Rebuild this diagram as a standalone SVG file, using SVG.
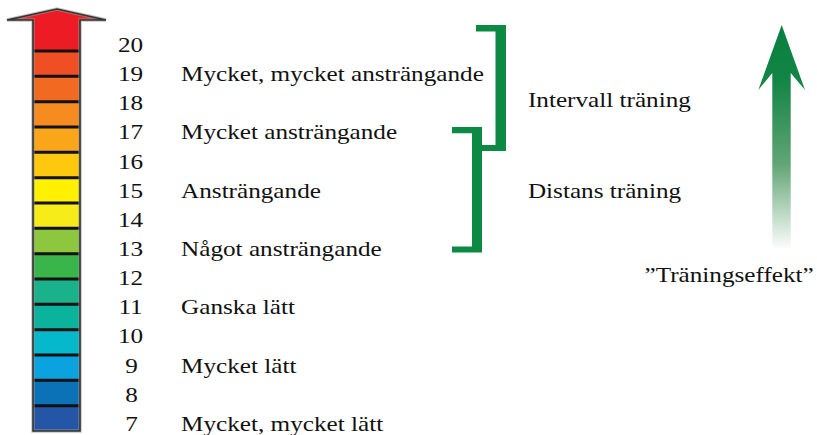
<svg xmlns="http://www.w3.org/2000/svg" width="817" height="435" viewBox="0 0 817 435">
<style>
.t{font-family:"Liberation Serif","Times New Roman",serif;font-size:20px;fill:#111}
.n{text-anchor:middle}
.sep{stroke:#111;stroke-width:3}
.br{fill:#0c8a44}
</style>
<defs>
<linearGradient id="gg" gradientUnits="userSpaceOnUse" x1="0" y1="25" x2="0" y2="250">
<stop offset="0" stop-color="#078040"/>
<stop offset="0.25" stop-color="#138544"/>
<stop offset="0.62" stop-color="#62a575"/>
<stop offset="1" stop-color="#ffffff"/>
</linearGradient>
</defs>
<rect width="817" height="435" fill="#fff"/>
<g id="scale-arrow">
<polygon points="7,20 57,9 106,20 80,20 80,51 33,51 33,20" fill="#ed1c24"/>
<rect x="33" y="51" width="47" height="25.4" fill="#f04e23"/>
<rect x="33" y="76.3" width="47" height="25.4" fill="#f26a22"/>
<rect x="33" y="101.7" width="47" height="25.4" fill="#f68b1f"/>
<rect x="33" y="127" width="47" height="25.4" fill="#faa61a"/>
<rect x="33" y="152.3" width="47" height="25.4" fill="#fdc80e"/>
<rect x="33" y="177.7" width="47" height="25.4" fill="#fff100"/>
<rect x="33" y="203" width="47" height="25.4" fill="#f6ec1a"/>
<rect x="33" y="228.3" width="47" height="25.4" fill="#8dc63f"/>
<rect x="33" y="253.7" width="47" height="25.4" fill="#39b54a"/>
<rect x="33" y="279" width="47" height="25.4" fill="#1ab28a"/>
<rect x="33" y="304.3" width="47" height="25.4" fill="#0bb39c"/>
<rect x="33" y="329.7" width="47" height="25.4" fill="#06b8cb"/>
<rect x="33" y="355" width="47" height="25.4" fill="#0aa3df"/>
<rect x="33" y="380.3" width="47" height="25.4" fill="#0b72b8"/>
<rect x="33" y="405.7" width="47" height="25.3" fill="#2356a6"/>
<g class="sep">
<line x1="33" y1="51" x2="80" y2="51"/>
<line x1="33" y1="76.3" x2="80" y2="76.3"/>
<line x1="33" y1="101.7" x2="80" y2="101.7"/>
<line x1="33" y1="127" x2="80" y2="127"/>
<line x1="33" y1="152.3" x2="80" y2="152.3"/>
<line x1="33" y1="177.7" x2="80" y2="177.7"/>
<line x1="33" y1="203" x2="80" y2="203"/>
<line x1="33" y1="228.3" x2="80" y2="228.3"/>
<line x1="33" y1="253.7" x2="80" y2="253.7"/>
<line x1="33" y1="279" x2="80" y2="279"/>
<line x1="33" y1="304.3" x2="80" y2="304.3"/>
<line x1="33" y1="329.7" x2="80" y2="329.7"/>
<line x1="33" y1="355" x2="80" y2="355"/>
<line x1="33" y1="380.3" x2="80" y2="380.3"/>
<line x1="33" y1="405.7" x2="80" y2="405.7"/>
</g>
<path d="M33,20 L7,20 L57,9 L106,20 L80,20 L80,431 L33,431 Z" fill="none" stroke="#9a9a9a" stroke-width="3.5" stroke-linejoin="miter" opacity="0.6"/>
<path d="M33,20 L7,20 L57,9 L106,20 L80,20 L80,431 L33,431 Z" fill="none" stroke="#333" stroke-width="1.6" stroke-linejoin="miter"/>
</g>
<g id="scale-labels" class="t" transform="scale(1.26 1)">
<text class="t n" x="103.6" y="52">20</text>
<text class="t n" x="103.6" y="81.2">19</text>
<text class="t n" x="103.6" y="110.3">18</text>
<text class="t n" x="103.6" y="139.5">17</text>
<text class="t n" x="103.6" y="168.6">16</text>
<text class="t n" x="103.6" y="197.8">15</text>
<text class="t n" x="103.6" y="226.9">14</text>
<text class="t n" x="103.6" y="256">13</text>
<text class="t n" x="103.6" y="285.2">12</text>
<text class="t n" x="103.6" y="314.4">11</text>
<text class="t n" x="103.6" y="343.5">10</text>
<text class="t n" x="104.4" y="372.7">9</text>
<text class="t n" x="104.4" y="401.8">8</text>
<text class="t n" x="104.4" y="431">7</text>
<text class="t" x="143.7" y="81.2">Mycket, mycket ansträngande</text>
<text class="t" x="143.7" y="139.5">Mycket ansträngande</text>
<text class="t" x="143.7" y="197.8">Ansträngande</text>
<text class="t" x="143.7" y="256">Något ansträngande</text>
<text class="t" x="143.7" y="314.4">Ganska lätt</text>
<text class="t" x="143.7" y="372.7">Mycket lätt</text>
<text class="t" x="143.7" y="431">Mycket, mycket lätt</text>
<text class="t" x="419" y="107.5">Intervall träning</text>
<text class="t" x="419" y="198.5">Distans träning</text>
<text class="t" x="511.5" y="282">”Träningseffekt”</text>
</g>
<g id="brackets">
<g id="bracket-intervall">
<polygon class="br" points="476,25 506,25 506,151 482,151 482,145 495.5,145 495.5,31.5 476,31.5"/>
</g>
<g id="bracket-distans">
<polygon class="br" points="452,127 482,127 482,252.5 452,252.5 452,246.5 472,246.5 472,133.3 452,133.3"/>
</g>
</g>
<g id="effect-arrow">
<polygon points="781.7,25 805,90 790.7,73 790.7,248 772.3,248 772.3,73 758.3,90" fill="url(#gg)"/>
</g>
</svg>
